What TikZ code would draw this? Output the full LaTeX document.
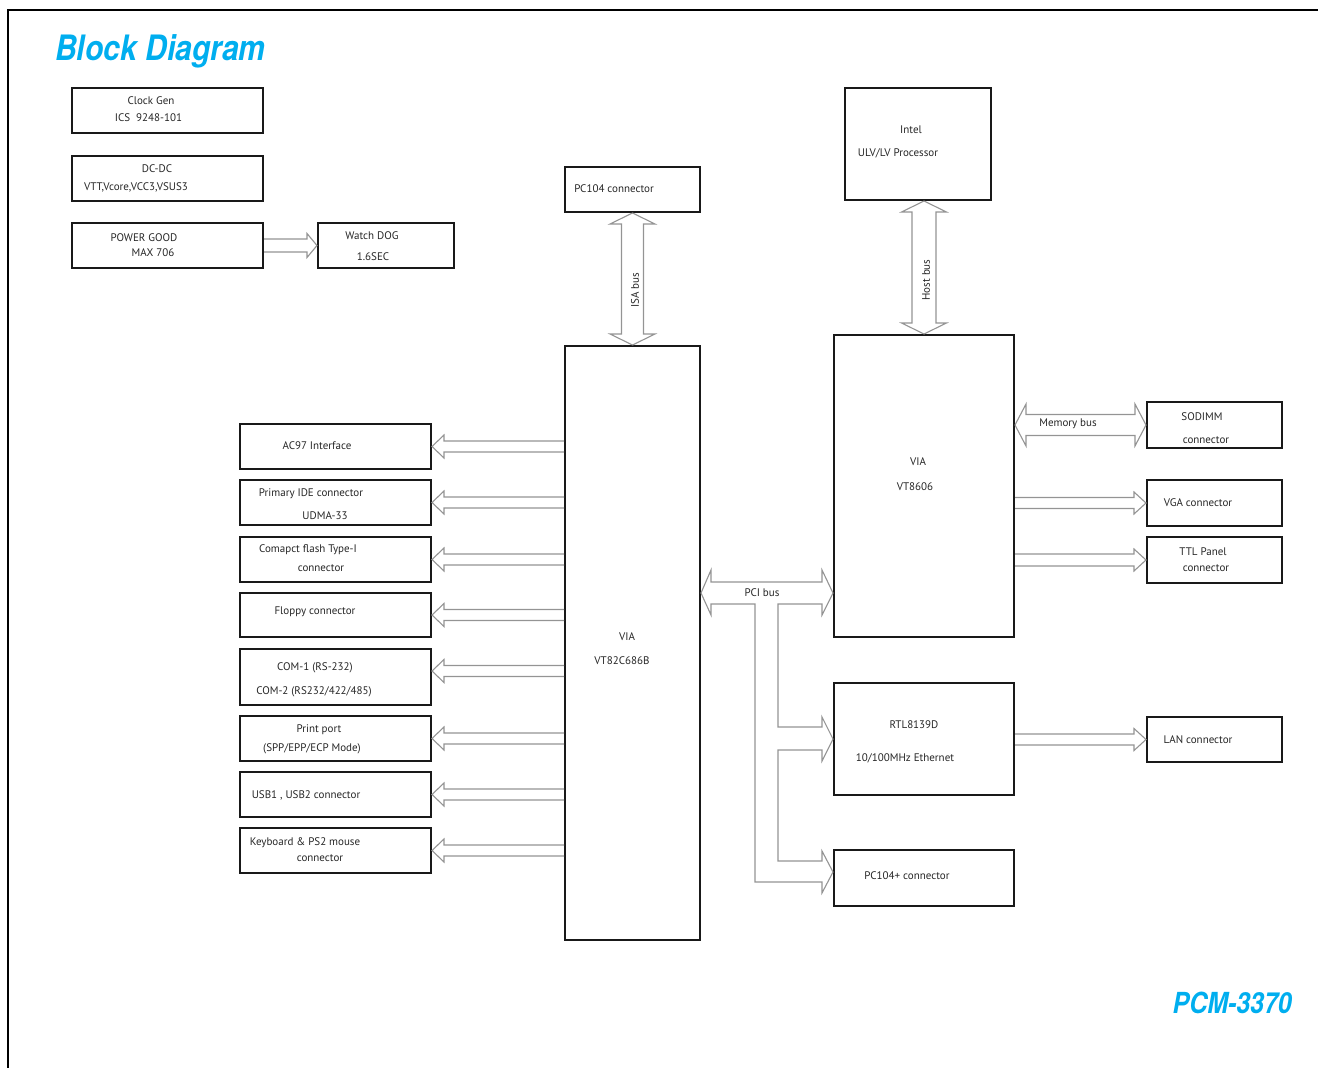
\documentclass[tikz,border=0pt]{standalone}
\usepackage{fontspec}
\setmainfont{PT Sans}
\newfontfamily\headfont{TeX Gyre Heros}[FakeStretch=0.86]
\usetikzlibrary{calc}
\definecolor{advcyan}{RGB}{0,174,239}
\newcommand{\harrow}[5]{\draw[bus] ($(#1)+(0,-#4)$) -- ($(#2)+(#3,-#4)$) -- ($(#2)+(#3,-#5)$) -- (#2) -- ($(#2)+(#3,#5)$) -- ($(#2)+(#3,#4)$) -- ($(#1)+(0,#4)$)}
\newcommand{\hdouble}[4]{\draw[bus] (#1) -- ($(#1)+(11,-#4)$) -- ($(#1)+(11,-#3)$) -- ($(#2)+(-11,-#3)$) -- ($(#2)+(-11,-#4)$) -- (#2) -- ($(#2)+(-11,#4)$) -- ($(#2)+(-11,#3)$) -- ($(#1)+(11,#3)$) -- ($(#1)+(11,#4)$) -- cycle}
\newcommand{\vdouble}[4]{\draw[bus] (#1) -- ($(#1)+(#4,11)$) -- ($(#1)+(#3,11)$) -- ($(#2)+(#3,-11)$) -- ($(#2)+(#4,-11)$) -- (#2) -- ($(#2)+(-#4,-11)$) -- ($(#2)+(-#3,-11)$) -- ($(#1)+(-#3,11)$) -- ($(#1)+(-#4,11)$) -- cycle}

\begin{document}
\begin{tikzpicture}[x=1pt,y=-1pt,
	box/.style={draw=black!90,line width=2pt,inner sep=0pt},
	sz/.style 2 args={minimum width=#1pt,minimum height=#2pt},
	bus/.style={draw=black!42,line width=1.1pt},
	txt/.style={inner sep=0pt,font=\fontsize{11}{13}\selectfont,text=black!85},
	head/.style={inner sep=0pt,text=advcyan,font=\headfont\bfseries\itshape\fontsize{35}{40}\selectfont}]
		\useasboundingbox (0,0) rectangle (1318,1068);
		\draw[line width=1.8pt] (8,1068) -- (8,10) -- (1318,10);
		
		\node[head,anchor=base west] (title) at (55,60) {Block Diagram};
		\node[head,anchor=base east,font=\headfont\bfseries\itshape\fontsize{29}{34}\selectfont] (model) at (1292,1013) {PCM-3370};
		
		\begin{scope}[box]
			\node[box,sz={191}{45}] (clk) at (167.5,110.5) {};
			\node[box,sz={191}{45}] (dcdc) at (167.5,178.5) {};
			\node[box,sz={191}{45}] (pwr) at (167.5,245.5) {};
			\node[box,sz={136}{45}] (wdog) at (386,245.5) {};
			
			\node[box,sz={135}{45}] (pc104) at (632.5,189.5) {};
			\node[box,sz={146}{112}] (cpu) at (918,144) {};
			\node[box,sz={135}{594}] (south) at (632.5,643) {};
			\node[box,sz={180}{302}] (north) at (924,486) {};
			\node[box,sz={180}{112}] (rtl) at (924,739) {};
			\node[box,sz={180}{56}] (pcp) at (924,878) {};
			
			\node[box,sz={135}{46}] (sodimm) at (1214.5,425) {};
			\node[box,sz={135}{46}] (vga) at (1214.5,503) {};
			\node[box,sz={135}{46}] (ttl) at (1214.5,560) {};
			\node[box,sz={135}{45}] (lan) at (1214.5,739.5) {};
			
			\node[box,sz={191}{45}] (ac97) at (335.5,446.5) {};
			\node[box,sz={191}{45}] (ide) at (335.5,502.5) {};
			\node[box,sz={191}{45}] (cf) at (335.5,559.5) {};
			\node[box,sz={191}{44}] (fdd) at (335.5,615) {};
			\node[box,sz={191}{56}] (com) at (335.5,677) {};
			\node[box,sz={191}{45}] (lpt) at (335.5,738.5) {};
			\node[box,sz={191}{45}] (usb) at (335.5,794.5) {};
			\node[box,sz={191}{45}] (kbd) at (335.5,850.5) {};
		\end{scope}
		
		\node[txt] at (151,101) {Clock Gen};
		\node[txt] at (148.5,118) {ICS\ \ 9248-101};
		\node[txt] at (157,169) {DC-DC};
		\node[txt] at (136,187) {VTT,Vcore,VCC3,VSUS3};
		\node[txt] at (144,238) {POWER GOOD};
		\node[txt] at (153,253) {MAX 706};
		\node[txt] at (372,236) {Watch DOG};
		\node[txt] at (373,257) {1.6SEC};
		\node[txt] at (614,189) {PC104 connector};
		\node[txt] at (911,130) {Intel};
		\node[txt] at (898,153) {ULV/LV Processor};
		\node[txt] at (627,637) {VIA};
		\node[txt] at (622,661) {VT82C686B};
		\node[txt] at (918,462) {VIA};
		\node[txt] at (915,487) {VT8606};
		\node[txt] at (914,725) {RTL8139D};
		\node[txt] at (905,758) {10/100MHz Ethernet};
		\node[txt] at (907,876) {PC104+ connector};
		\node[txt] at (1202,417) {SODIMM};
		\node[txt] at (1206,440) {connector};
		\node[txt] at (1198,503) {VGA connector};
		\node[txt] at (1203,552) {TTL Panel};
		\node[txt] at (1206,568) {connector};
		\node[txt] at (1198,740) {LAN connector};
		\node[txt] at (317,446) {AC97 Interface};
		\node[txt] at (311,494) {Primary IDE connector};
		\node[txt] at (325,516) {UDMA-33};
		\node[txt] at (308,550) {Comapct flash Type-I};
		\node[txt] at (321,568) {connector};
		\node[txt] at (315,612) {Floppy connector};
		\node[txt] at (315,668) {COM-1 (RS-232)};
		\node[txt] at (314,692) {COM-2 (RS232/422/485)};
		\node[txt] at (319,730) {Print port};
		\node[txt] at (312,749) {(SPP/EPP/ECP Mode)};
		\node[txt] at (306,795) {USB1 , USB2 connector};
		\node[txt] at (305,843) {Keyboard \& PS2 mouse};
		\node[txt] at (320,858) {connector};
		
		\node[txt,rotate=90] (isa) at (635,290) {ISA bus};
		\node[txt,rotate=90] (host) at (926,280) {Host bus};
		\node[txt] (mem) at (1068,424) {Memory bus};
		\node[txt] (pci) at (762,593) {PCI bus};
		
		\coordinate (hostT) at (north.north |- cpu.south);
		\coordinate (memL) at (north.east |- sodimm.west);
		\coordinate (pciL) at (south.east |- 0,593);
		\coordinate (pciR) at (north.west |- 0,593);
		\coordinate (rtlT) at (rtl.west);
		\coordinate (pcpT) at (pcp.west |- 0,872);
		\coordinate (brA) at (778,604);
		\coordinate (brB) at (755,604);
		
		\harrow{pwr.east}{wdog.west}{-10}{6.5}{12};
		\vdouble{pc104.south}{south.north}{11}{22.5};
		\vdouble{hostT}{north.north}{12}{22.5};
		\hdouble{memL}{sodimm.west}{10.5}{21};
		\harrow{north.east |- vga.west}{vga.west}{-12}{5.5}{11};
		\harrow{north.east |- ttl.west}{ttl.west}{-12}{6}{11};
		\harrow{rtl.east |- lan.west}{lan.west}{-12}{5.5}{11};
		
		\foreach \n/\dy in {ac97/0,ide/0,cf/0,fdd/0,com/-6,lpt/0,usb/0,kbd/0}{
			\coordinate (t) at ($(\n.east)+(0,\dy)$);
			\harrow{south.west |- t}{t}{12}{5.5}{11.5};
		}
		
		\draw[bus] (pciL) -- ++(10,-23) -- ++(0,12) -- ($(pciR)+(-11,-11)$) -- ++(0,-12) -- (pciR) -- ++(-11,22) -- ++(0,-11) -- (brA)
			-- ($(brA |- rtlT)+(0,-12)$) -- ($(rtlT)+(-11,-12)$) -- ++(0,-10) -- (rtlT) -- ++(-11,22) -- ++(0,-11) -- ($(brA |- rtlT)+(0,11)$)
			-- ($(brA |- pcpT)+(0,-11)$) -- ($(pcpT)+(-11,-11)$) -- ++(0,-10) -- (pcpT) -- ++(-11,21) -- ++(0,-11) -- ($(brB |- pcpT)+(0,10)$)
			-- (brB) -- ($(pciL)+(10,11)$) -- ++(0,11) -- cycle;
	\end{tikzpicture}
\end{document}
